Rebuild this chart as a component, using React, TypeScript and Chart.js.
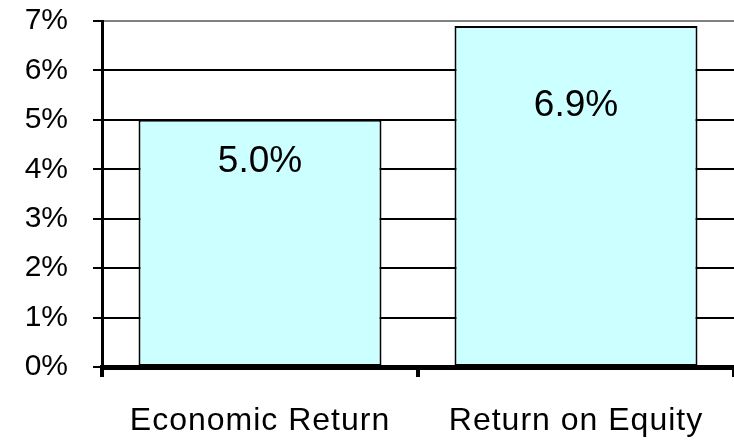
import { useEffect, useRef } from 'react';
import { Chart, registerables } from 'chart.js';

Chart.register(...registerables);

const categories = ['Economic Return', 'Return on Equity'];
const values = [0.05, 0.069];
const valueLabels = ['5.0%', '6.9%'];
const yMin = 0;
const yMax = 0.07;
const yStep = 0.01;

const FONT = '"Liberation Sans", Arial, sans-serif';
const labelBaselineOffsets = [52, 90];

const labelPlugin = {
  id: 'barLabels',
  afterDatasetsDraw(chart: any) {
    const ctx = chart.ctx;
    const meta = chart.getDatasetMeta(0);
    ctx.save();
    ctx.font = `37px ${FONT}`;
    ctx.fillStyle = '#000000';
    ctx.textAlign = 'center';
    ctx.textBaseline = 'alphabetic';
    meta.data.forEach((bar: any, i: number) => {
      ctx.fillText(valueLabels[i], bar.x, bar.y + labelBaselineOffsets[i]);
    });
    ctx.restore();
    ctx.letterSpacing = '1px';
  },
  afterDraw(chart: any) {
    chart.ctx.letterSpacing = '0px';
  },
};

export default function App() {
  const ref = useRef<HTMLCanvasElement | null>(null);
  useEffect(() => {
    document.body.style.margin = '0';
    const canvas = ref.current!;
    const chart = new Chart(canvas, {
      type: 'bar',
      data: {
        labels: categories,
        datasets: [
          {
            data: values,
            backgroundColor: '#CCFFFF',
            borderColor: '#000000',
            borderWidth: 2,
            borderSkipped: false,
            categoryPercentage: 1,
            barPercentage: 0.769,
          },
        ],
      },
      options: {
        responsive: false,
        animation: false,
        devicePixelRatio: 1,
        layout: { padding: { top: 21, right: 0, left: 0, bottom: 0 } },
        plugins: { legend: { display: false }, tooltip: { enabled: false } },
        scales: {
          x: {
            grid: {
              offset: true,
              drawOnChartArea: false,
              drawTicks: true,
              tickLength: 10,
              color: '#000000',
              lineWidth: 4,
            },
            border: { display: true, color: '#000000', width: 5, z: 1 },
            ticks: {
              z: 1,
              color: '#000000',
              font: { family: FONT, size: 32 },
              padding: 25,
              maxRotation: 0,
              autoSkip: false,
            },
            afterFit: (s: any) => {
              s.height = 75;
              s.paddingLeft = 0;
              s.paddingRight = 0;
            },
          },
          y: {
            min: yMin,
            max: yMax,
            grid: {
              color: (c: any) => (c.tick && c.tick.value >= yMax - 1e-9 ? '#808080' : '#000000'),
              tickColor: '#000000',
              lineWidth: 2,
              tickLength: 9,
            },
            border: { display: true, color: '#000000', width: 3 },
            ticks: {
              stepSize: yStep,
              color: '#000000',
              font: { family: FONT, size: 30 },
              padding: 25,
              callback: (v: any) => `${Math.round(Number(v) * 100)}%`,
            },
            afterFit: (s: any) => {
              s.width = 102;
              s.paddingTop = 0;
              s.paddingBottom = 0;
            },
          },
        },
      },
      plugins: [labelPlugin],
    });
    return () => chart.destroy();
  }, []);
  return (
    <div style={{ width: 734, height: 442, overflow: 'hidden' }}>
      <canvas ref={ref} width={734} height={442} style={{ display: 'block', width: 734, height: 442 }} />
    </div>
  );
}
